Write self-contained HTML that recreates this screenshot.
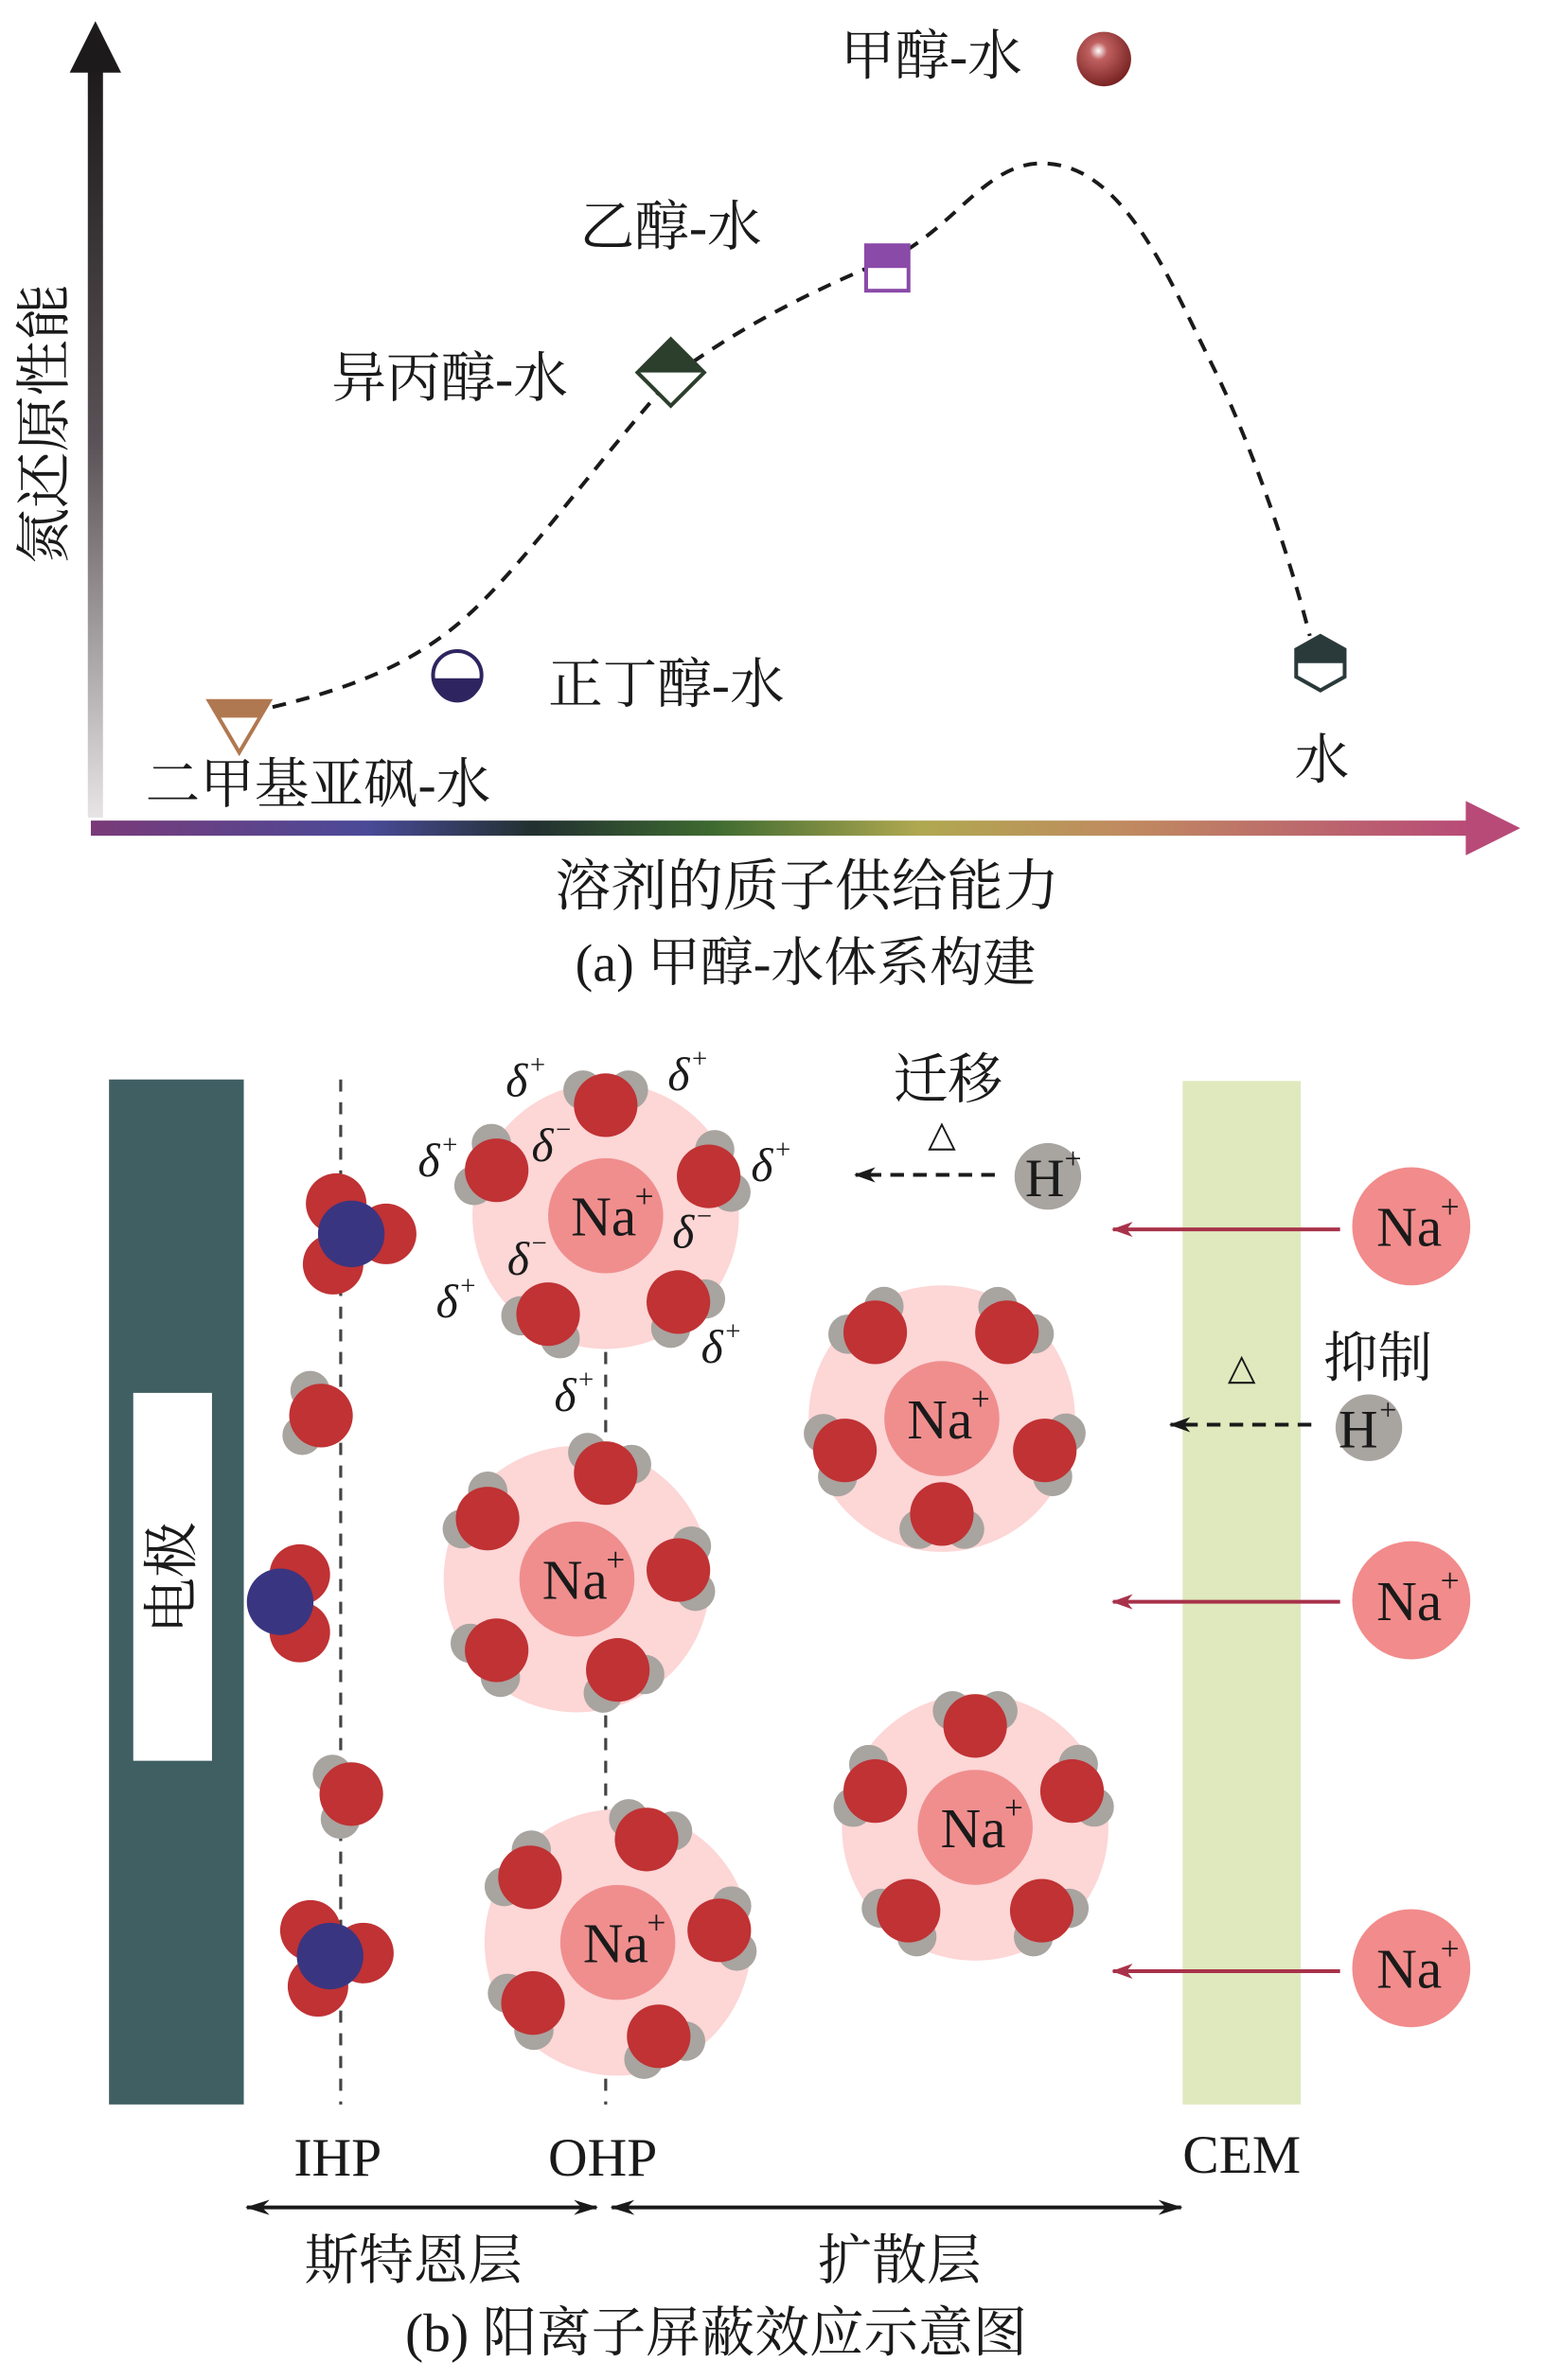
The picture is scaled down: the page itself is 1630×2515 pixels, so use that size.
<!DOCTYPE html>
<html><head><meta charset="utf-8"><style>
html,body{margin:0;padding:0;background:#fff}
svg{display:block}
.cj{font-family:"Liberation Serif","Noto Serif CJK SC","Noto Sans CJK SC",serif;fill:#1a1a1a}
.se{font-family:"Liberation Serif",serif;fill:#1a1a1a}
</style></head><body>
<svg id="s" width="1630" height="2515" viewBox="0 0 1019 1572" preserveAspectRatio="none" xmlns="http://www.w3.org/2000/svg">
<defs>
<linearGradient id="gy" x1="0" y1="0" x2="0" y2="1"><stop offset="0" stop-color="#1c1a1a"/><stop offset="0.5" stop-color="#5a5256"/><stop offset="1" stop-color="#e6e4e4"/></linearGradient>
<linearGradient id="gx" x1="0" y1="0" x2="1" y2="0"><stop offset="0" stop-color="#7a3a78"/><stop offset="0.2" stop-color="#4a4a98"/><stop offset="0.32" stop-color="#223030"/><stop offset="0.45" stop-color="#3d6a30"/><stop offset="0.6" stop-color="#b0a850"/><stop offset="0.75" stop-color="#c08a60"/><stop offset="1" stop-color="#b84a78"/></linearGradient>
<radialGradient id="sp" cx="0.4" cy="0.35" r="0.65"><stop offset="0" stop-color="#fff"/><stop offset="0.25" stop-color="#c06060"/><stop offset="1" stop-color="#7a2424"/></radialGradient>
<marker id="ar" markerWidth="14" markerHeight="10" refX="13" refY="5" orient="auto" markerUnits="userSpaceOnUse"><path d="M0,0 L14,5 L0,10 L4,5z" fill="#a8324a"/></marker>
<marker id="ak" markerWidth="14" markerHeight="10" refX="13" refY="5" orient="auto" markerUnits="userSpaceOnUse"><path d="M0,0 L14,5 L0,10 L4,5z" fill="#1a1a1a"/></marker>
<marker id="ks" markerWidth="16" markerHeight="10" refX="15" refY="5" orient="auto-start-reverse" markerUnits="userSpaceOnUse"><path d="M0,0 L16,5 L0,10 L5,5z" fill="#1a1a1a"/></marker>
</defs>
<!-- part a axes -->
<rect x="58" y="44" width="10" height="496" fill="url(#gy)"/>
<path d="M63,14 L80,48 L46,48z" fill="#1c1a1a"/>
<rect x="60" y="542" width="912" height="10" fill="url(#gx)"/>
<path d="M1004,547 L968,529 L968,565z" fill="#b84a78"/>
<text class="cj" font-size="37" transform="translate(42,280) rotate(-90)" text-anchor="middle">氮还原性能</text>
<text class="cj" font-size="37" x="533" y="598" text-anchor="middle">溶剂的质子供给能力</text>
<text class="cj" font-size="35" x="532" y="648" text-anchor="middle">(a) 甲醇-水体系构建</text>
<path d="M180,467 C230,455 270,440 305,410 C345,375 390,310 445,248 C490,215 540,190 590,170 C630,150 650,110 685,108 C740,105 770,180 800,240 C830,300 855,380 865,420" fill="none" stroke="#1a1a1a" stroke-width="2.5" stroke-dasharray="9,7"/>
<!-- markers -->
<path d="M138,463 L178,463 L158,497z" fill="#fff" stroke="#b07850" stroke-width="2.5"/>
<path d="M138,463 L178,463 L172,474 L144,474z" fill="#b07850"/>
<circle cx="302" cy="446" r="16" fill="#fff" stroke="#2e2560" stroke-width="2.5"/>
<path d="M286,448 A16,16 0 0 0 318,448z" fill="#2e2560"/>
<path d="M443,224 L465,246 L443,268 L421,246z" fill="#fff" stroke="#2c3e2c" stroke-width="2.5"/>
<path d="M443,224 L465,246 L421,246z" fill="#2c3e2c"/>
<rect x="572" y="162" width="28" height="30" fill="#fff" stroke="#8a4aa8" stroke-width="2.5"/>
<rect x="572" y="162" width="28" height="15" fill="#8a4aa8"/>
<path d="M872,420 L888,429 L888,447 L872,456 L856,447 L856,429z" fill="#fff" stroke="#2a3a3a" stroke-width="2.5"/>
<path d="M872,420 L888,429 L888,438 L856,438 L856,429z" fill="#2a3a3a"/>
<circle cx="729" cy="39" r="18" fill="url(#sp)"/>
<text class="cj" font-size="36" x="615" y="49" text-anchor="middle">甲醇-水</text>
<text class="cj" font-size="36" x="443" y="162" text-anchor="middle">乙醇-水</text>
<text class="cj" font-size="36" x="297" y="262" text-anchor="middle">异丙醇-水</text>
<text class="cj" font-size="36" x="440" y="464" text-anchor="middle">正丁醇-水</text>
<text class="cj" font-size="36" x="210" y="530" text-anchor="middle">二甲基亚砜-水</text>
<text class="cj" font-size="36" x="873" y="514" text-anchor="middle">水</text>
<!-- part b -->
<rect x="72" y="713" width="89" height="677" fill="#3f5f62"/>
<rect x="88" y="920" width="52" height="243" fill="#fff"/>
<text class="cj" font-size="37" transform="translate(126,1042) rotate(-90)" text-anchor="middle">电极</text>
<rect x="781" y="714" width="78" height="676" fill="#dfe9bd"/>
<line x1="225" y1="713" x2="225" y2="1390" stroke="#444" stroke-width="2" stroke-dasharray="8,7"/>
<line x1="400" y1="713" x2="400" y2="1390" stroke="#444" stroke-width="2" stroke-dasharray="8,7"/>
<g id="mol"></g>
<g id="free"></g>
<line x1="885" y1="812" x2="735" y2="812" stroke="#a8324a" stroke-width="2.5" marker-end="url(#ar)"/>
<line x1="885" y1="1058" x2="735" y2="1058" stroke="#a8324a" stroke-width="2.5" marker-end="url(#ar)"/>
<line x1="885" y1="1302" x2="735" y2="1302" stroke="#a8324a" stroke-width="2.5" marker-end="url(#ar)"/>
<circle cx="692" cy="777" r="22" fill="#a8a4a0"/>
<text class="se" font-size="36" x="677" y="790">H</text><text class="se" font-size="20" x="703" y="772">+</text>
<circle cx="904" cy="943" r="22" fill="#a8a4a0"/>
<text class="se" font-size="36" x="884" y="956">H</text><text class="se" font-size="20" x="911" y="938">+</text>
<line x1="657" y1="776" x2="565" y2="776" stroke="#1a1a1a" stroke-width="2.5" stroke-dasharray="9,6" marker-end="url(#ak)"/>
<line x1="866" y1="941" x2="773" y2="941" stroke="#1a1a1a" stroke-width="2.5" stroke-dasharray="9,6" marker-end="url(#ak)"/>
<text class="cj" font-size="36" x="626" y="725" text-anchor="middle">迁移</text>
<text class="se" font-size="24" x="622" y="757" text-anchor="middle">△</text>
<text class="cj" font-size="36" x="910" y="909" text-anchor="middle">抑制</text>
<text class="se" font-size="24" x="820" y="911" text-anchor="middle">△</text>
<text class="se" font-size="36" x="223" y="1437" text-anchor="middle">IHP</text>
<text class="se" font-size="36" x="398" y="1437" text-anchor="middle">OHP</text>
<text class="se" font-size="36" x="820" y="1435" text-anchor="middle">CEM</text>
<line x1="163" y1="1458" x2="394" y2="1458" stroke="#1a1a1a" stroke-width="2.5" marker-start="url(#ks)" marker-end="url(#ks)"/>
<line x1="404" y1="1458" x2="780" y2="1458" stroke="#1a1a1a" stroke-width="2.5" marker-start="url(#ks)" marker-end="url(#ks)"/>
<text class="cj" font-size="36" x="273" y="1505" text-anchor="middle">斯特恩层</text>
<text class="cj" font-size="36" x="594" y="1505" text-anchor="middle">扩散层</text>
<text class="cj" font-size="36" x="473" y="1553" text-anchor="middle">(b) 阳离子屏蔽效应示意图</text>
<g id="delta"></g>
</svg>
<script>
var NS="http://www.w3.org/2000/svg";
function el(p,t,a,txt){var e=document.createElementNS(NS,t);for(var k in a)e.setAttribute(k,a[k]);if(txt)e.textContent=txt;p.appendChild(e);return e;}
var mol=document.getElementById('mol');
function na(g,x,y,r,fs){
 el(g,'text',{class:'se','font-size':fs,x:x-fs*0.62,y:y+fs*0.35},'Na');
 el(g,'text',{class:'se','font-size':fs*0.6,x:x+fs*0.52,y:y-fs*0.15},'+');
}
function water(g,ox,oy,cx,cy){
 var dx=ox-cx,dy=oy-cy,d=Math.sqrt(dx*dx+dy*dy);dx/=d;dy/=d;var px=-dy,py=dx;
 el(g,'circle',{cx:ox+dx*10+px*15,cy:oy+dy*10+py*15,r:13,fill:'#a8a4a0'});
 el(g,'circle',{cx:ox+dx*10-px*15,cy:oy+dy*10-py*15,r:13,fill:'#a8a4a0'});
 el(g,'circle',{cx:ox,cy:oy,r:21,fill:'#c03234'});
}
var cl=[[400,803,[[400,730],[328,773],[468,777],[362,868],[448,860]]],
[622,937,[[578,880],[665,880],[558,958],[690,958],[622,1000]]],
[381,1043,[[400,973],[322,1003],[448,1037],[328,1090],[408,1103]]],
[408,1283,[[427,1215],[350,1240],[475,1275],[352,1323],[435,1345]]],
[644,1207,[[644,1140],[578,1183],[708,1183],[600,1262],[688,1262]]]];
cl.forEach(function(c){
 el(mol,'circle',{cx:c[0],cy:c[1],r:88,fill:'#fdd6d6'});
 el(mol,'circle',{cx:c[0],cy:c[1],r:38,fill:'#f08e8e'});
 c[2].forEach(function(o){water(mol,o[0],o[1],c[0],c[1]);});
 na(mol,c[0],c[1],38,37);
});
function blue(bx,by,reds){reds.forEach(function(r){el(mol,'circle',{cx:r[0],cy:r[1],r:20,fill:'#c03234'});});el(mol,'circle',{cx:bx,cy:by,r:22,fill:'#3a3580'});}
blue(232,815,[[222,795],[255,815],[220,835]]);
blue(218,1292,[[205,1275],[240,1290],[210,1312]]);
blue(185,1058,[[198,1040],[198,1078]]);
water(mol,212,935,240,940);
water(mol,232,1185,260,1180);
var fr=document.getElementById('free');
[[932,810],[932,1057],[932,1300]].forEach(function(p){el(fr,'circle',{cx:p[0],cy:p[1],r:39,fill:'#f28b8b'});na(fr,p[0],p[1],39,37);});
var dg=document.getElementById('delta');
function dl(x,y,s){el(dg,'text',{class:'se','font-size':31,'font-style':'italic',x:x,y:y},'δ');el(dg,'text',{class:'se','font-size':18,x:x+16,y:y-15},s);}
dl(334,724,'+');dl(441,720,'+');dl(276,777,'+');dl(496,780,'+');dl(351,767,'−');dl(444,824,'−');dl(335,842,'−');dl(288,870,'+');dl(463,900,'+');dl(366,932,'+');
</script>
</body></html>
